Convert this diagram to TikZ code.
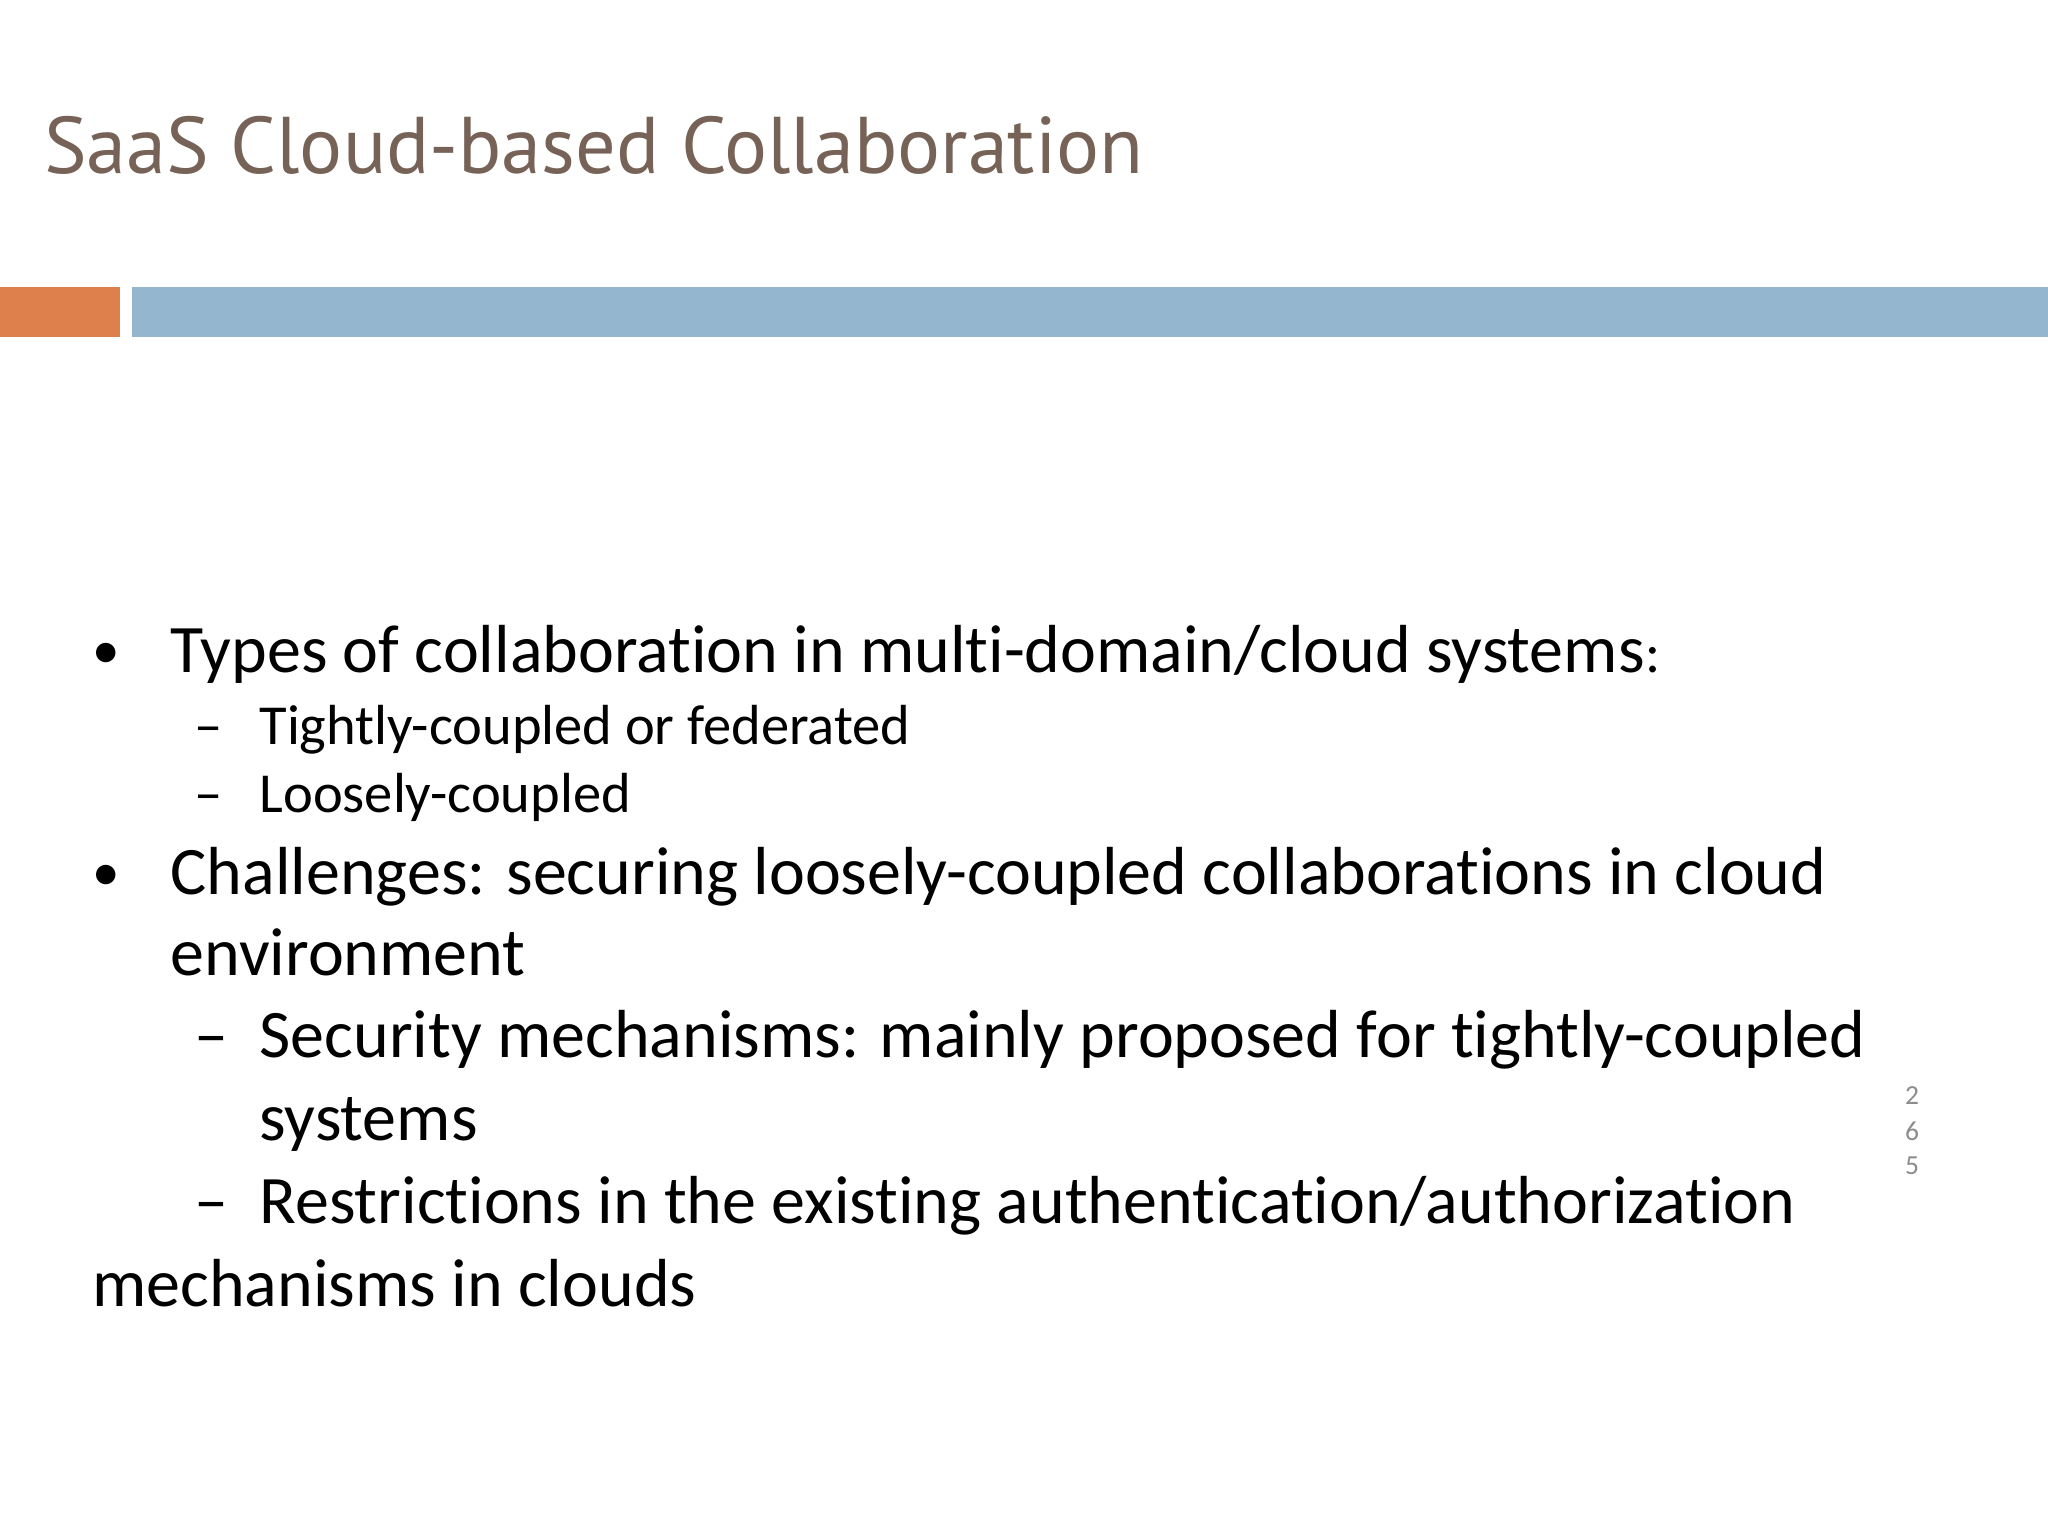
\documentclass[tikz,border=0pt]{standalone}
\usepackage{fontspec}
\setmainfont[Ligatures=NoCommon]{Carlito}
\newfontfamily\titlefont{PT Sans}
\definecolor{titlec}{RGB}{118,98,86}
\definecolor{orangec}{RGB}{221,128,76}
\definecolor{bluec}{RGB}{148,183,207}
\definecolor{numc}{RGB}{140,140,140}
\begin{document}
\begin{tikzpicture}[x=0.01cm,y=-0.01cm,
  big/.style={anchor=base west,inner sep=0,font=\fontsize{14.8pt}{17pt}\selectfont},
  small/.style={anchor=base west,inner sep=0,font=\fontsize{12.3pt}{14pt}\selectfont},
  num/.style={anchor=base,inner sep=0,text=numc,font=\fontsize{6pt}{7pt}\selectfont}]
\useasboundingbox[fill=white] (0,0) rectangle (1568,1176);
\node[anchor=base west,inner sep=0,text=titlec,font=\titlefont\fontsize{17.5pt}{20pt}\selectfont] (title) at (33,133) {SaaS Cloud-based Collaboration};
\fill[orangec] (0,220) rectangle (92,258);
\fill[bluec] (101,220) rectangle (1568,258);
\node[big,font=\fontsize{12pt}{14pt}\selectfont] (b1) at (70,512) {•};
\node[big] (t1) at (130,515) {Types of collaboration in multi-domain/cloud systems\fontsize{12.3pt}{14pt}\selectfont:};
\node[small] (d1) at (148,570) {–};
\node[small] (s1) at (198,570) {Tightly-coupled or federated};
\node[small] (d2) at (148,622) {–};
\node[small] (s2) at (198,622) {Loosely-coupled};
\node[big,font=\fontsize{12pt}{14pt}\selectfont] (b2) at (70,682) {•};
\node[big] (t2) at (130,685) {Challenges: securing loosely-coupled collaborations in cloud};
\node[big] (t3) at (130,747) {environment};
\node[big] (d3) at (148,810) {–};
\node[big] (s3) at (198,810) {Security mechanisms: mainly proposed for tightly-coupled};
\node[big] (s4) at (198,873) {systems};
\node[big] (d4) at (148,937) {–};
\node[big] (s5) at (198,937) {Restrictions in the existing authentication/authorization};
\node[big] (s6) at (70,1000) {mechanisms in clouds};
\node[num] (n1) at (1464,846) {2};
\node[num] (n2) at (1464,873) {6};
\node[num] (n3) at (1464,899) {5};
\end{tikzpicture}
\end{document}
